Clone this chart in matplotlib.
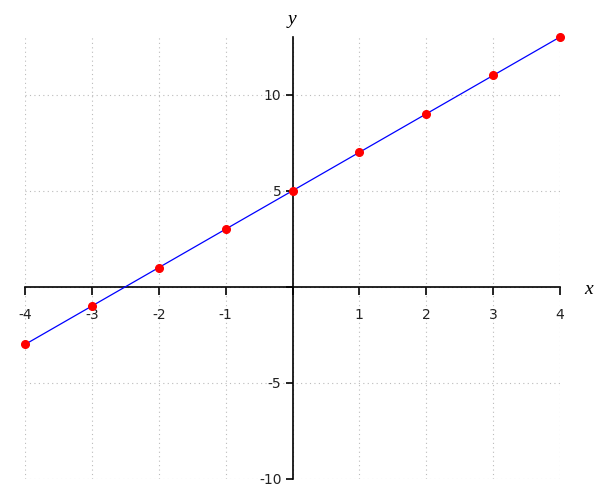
import matplotlib
matplotlib.use("Agg")
import matplotlib.pyplot as plt

x_vals = [-4, -3, -2, -1, 0, 1, 2, 3, 4]
y_vals = [-3, -1, 1, 3, 5, 7, 9, 11, 13]
x_ticks = [-4, -3, -2, -1, 0, 1, 2, 3, 4]
x_tick_labels = ["-4", "-3", "-2", "-1", "", "1", "2", "3", "4"]
y_ticks = [-10, -5, 0, 5, 10]
y_tick_labels = ["-10", "-5", "", "5", "10"]

fig = plt.figure(figsize=(6, 5), dpi=100)
ax = fig.add_axes([25/600, 1-479/500, 535/600, (479-37)/500])
ax.set_xlim(-4, 4)
ax.set_ylim(-10, 13)

ax.plot(x_vals, y_vals, color="#0000ff", lw=0.9, zorder=3, clip_on=False)
ax.plot(x_vals, y_vals, "o", color="#ff0000", ms=5.5, zorder=4, clip_on=False)

for s in ["top", "right"]:
    ax.spines[s].set_visible(False)
ax.spines["left"].set_position(("data", 0))
ax.spines["bottom"].set_position(("data", 0))
for s in ["left", "bottom"]:
    ax.spines[s].set_linewidth(1.2)
    ax.spines[s].set_color("black")

ax.set_xticks(x_ticks)
ax.set_xticklabels(x_tick_labels)
ax.set_yticks(y_ticks)
ax.set_yticklabels(y_tick_labels)
ax.tick_params(axis="x", direction="out", length=6, width=1.2, pad=9, labelsize=10, colors="black")
ax.tick_params(axis="y", direction="out", length=5, width=1.2, pad=3, labelsize=10, colors="black")
for lbl in ax.get_xticklabels() + ax.get_yticklabels():
    lbl.set_color("#222222")

ax.grid(True, color="#bbbbbb", linestyle=(0, (1, 3)), linewidth=0.8, zorder=0)
ax.set_axisbelow(True)

ax.text(292/600, 1-20/500, "y", transform=fig.transFigure, fontsize=14,
        family="Liberation Serif", style="italic", ha="center", va="center")
ax.text(589/600, 1-290/500, "x", transform=fig.transFigure, fontsize=14,
        family="Liberation Serif", style="italic", ha="center", va="center")

fig.savefig("out.png", dpi=100)
